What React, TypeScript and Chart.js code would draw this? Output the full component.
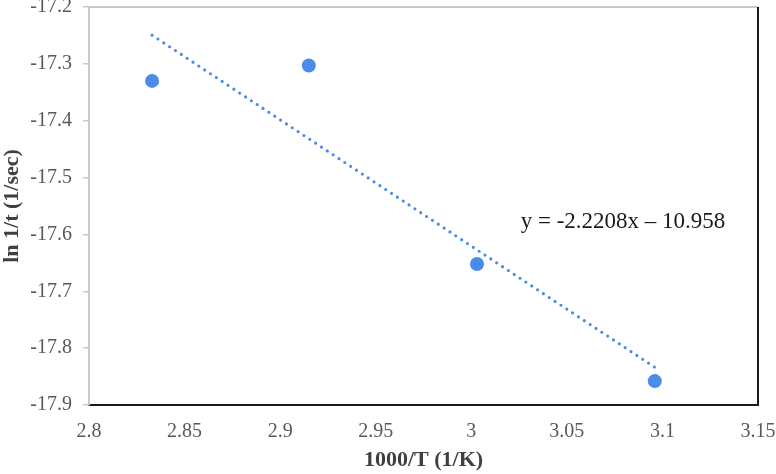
import React, { useEffect, useRef } from "react";
import { Chart, registerables } from "chart.js";

Chart.register(...registerables);

// Data
const xValues = [2.833, 2.915, 3.003, 3.096];
const yValues = [-17.33, -17.303, -17.652, -17.858];

// Excel linear trend line shown on the chart
const trendSlope = -2.2208;
const trendIntercept = -10.958;
const trendLabel = "y = -2.2208x \u2013 10.958";
const trendLabelAt = { x: 3.0794, y: -17.578 };

// Axis ticks
const xTicks = [2.8, 2.85, 2.9, 2.95, 3, 3.05, 3.1, 3.15];
const yTicks = [-17.9, -17.8, -17.7, -17.6, -17.5, -17.4, -17.3, -17.2];

const xTitle = "1000/T (1/K)";
const yTitle = "ln 1/t (1/sec)";

const BLUE = "#4b8bea";
const SERIF = "'Liberation Serif', 'Times New Roman', serif";

export default function App() {
  const ref = useRef<HTMLCanvasElement | null>(null);

  useEffect(() => {
    document.body.style.margin = "0";
    const canvas = ref.current;
    if (!canvas) return;

    const points = xValues.map((x, i) => ({ x, y: yValues[i] }));
    const xMin = Math.min(...xValues);
    const xMax = Math.max(...xValues);
    const trend = [
      { x: xMin, y: trendSlope * xMin + trendIntercept },
      { x: xMax, y: trendSlope * xMax + trendIntercept },
    ];

    const framePlugin = {
      id: "frame",
      afterDraw(chart: any) {
        const { ctx, chartArea } = chart;
        const { left, right, top, bottom } = chartArea;
        ctx.save();
        ctx.lineWidth = 2;
        ctx.strokeStyle = "#c4cbc8";
        ctx.beginPath();
        ctx.moveTo(left, top);
        ctx.lineTo(right, top);
        ctx.stroke();
        ctx.strokeStyle = "#1a1a1a";
        ctx.beginPath();
        ctx.moveTo(right, top);
        ctx.lineTo(right, bottom + 1);
        ctx.stroke();
        // equation label
        const xs = chart.scales.x;
        const ys = chart.scales.y;
        ctx.fillStyle = "#1a1a1a";
        ctx.font = `23px ${SERIF}`;
        ctx.textAlign = "center";
        ctx.textBaseline = "middle";
        ctx.fillText(
          trendLabel,
          xs.getPixelForValue(trendLabelAt.x),
          ys.getPixelForValue(trendLabelAt.y)
        );
        ctx.restore();
      },
    };

    const chart = new Chart(canvas, {
      type: "scatter",
      data: {
        datasets: [
          {
            label: "data",
            data: points,
            backgroundColor: BLUE,
            borderColor: BLUE,
            pointRadius: 7,
            pointHoverRadius: 7,
            borderWidth: 0,
          },
          {
            label: "trend",
            data: trend,
            showLine: true,
            borderColor: BLUE,
            borderWidth: 3.2,
            borderDash: [0, 7],
            borderCapStyle: "round",
            pointRadius: 0,
            fill: false,
          } as any,
        ],
      },
      plugins: [framePlugin],
      options: {
        animation: false,
        responsive: true,
        maintainAspectRatio: false,
        events: [],
        layout: { padding: { left: 0, top: 7, right: 18, bottom: 0 } },
        plugins: {
          legend: { display: false },
          tooltip: { enabled: false },
        },
        scales: {
          x: {
            type: "linear",
            min: xTicks[0],
            max: xTicks[xTicks.length - 1],
            afterBuildTicks: (scale: any) => {
              scale.ticks = xTicks.map((v) => ({ value: v }));
            },
            afterFit: (scale: any) => {
              scale.height = 69;
              scale.paddingLeft = 0;
              scale.paddingRight = 0;
            },
            ticks: {
              autoSkip: false,
              maxRotation: 0,
              padding: 15,
              color: "#595959",
              font: { family: SERIF, size: 20 },
              callback: (v: any) => String(v),
            },
            grid: { display: false, drawTicks: false },
            border: { display: true, color: "#1a1a1a", width: 2 },
            title: {
              display: true,
              text: xTitle,
              color: "#404040",
              font: { family: SERIF, size: 22, weight: "bold" },
              padding: { top: 0, bottom: 0 },
            },
          },
          y: {
            type: "linear",
            min: yTicks[0],
            max: yTicks[yTicks.length - 1],
            afterBuildTicks: (scale: any) => {
              scale.ticks = yTicks.map((v) => ({ value: v }));
            },
            afterFit: (scale: any) => {
              scale.width = 89;
              scale.paddingTop = 0;
              scale.paddingBottom = 0;
            },
            ticks: {
              autoSkip: false,
              padding: 11,
              color: "#595959",
              font: { family: SERIF, size: 20 },
              callback: (v: any) => Number(v).toFixed(1),
            },
            grid: {
              display: true,
              drawOnChartArea: false,
              drawTicks: true,
              tickLength: 6,
              color: "#c4cbc8",
              lineWidth: 1.5,
            },
            border: { display: true, color: "#c4cbc8", width: 2 },
            title: {
              display: true,
              text: yTitle,
              color: "#404040",
              font: { family: SERIF, size: 22, weight: "bold", lineHeight: 1 },
              padding: { top: 1, bottom: 0 },
            },
          },
        },
      },
    });

    return () => chart.destroy();
  }, []);

  return (
    <div style={{ position: "absolute", left: 0, top: 0, width: 776, height: 474 }}>
      <canvas ref={ref} />
    </div>
  );
}
